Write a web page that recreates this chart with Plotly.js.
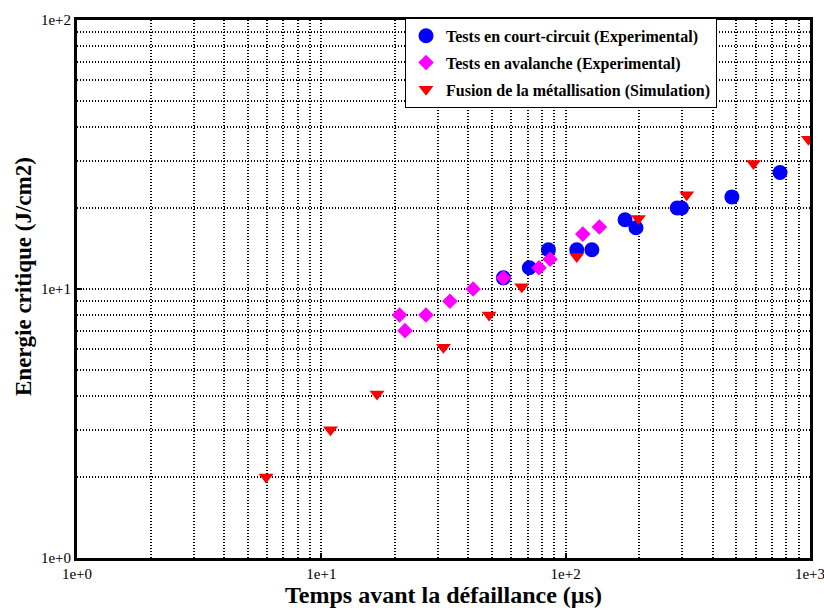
<!DOCTYPE html>
<html>
<head>
<meta charset="utf-8">
<script src="https://cdn.plot.ly/plotly-3.0.1.min.js"></script>
<style>html,body{margin:0;padding:0;background:#fff;}#chart{width:824px;height:612px;}</style>
</head>
<body>
<div id="chart"></div>
<script>
// Tests en court-circuit (Experimental)
const ccTime   = [55.6, 71, 85, 111, 128, 175, 194, 286, 298, 479, 754];
const ccEnergy = [11.0, 12.0, 14.0, 14.0, 14.0, 18.1, 16.9, 20.0, 20.0, 22.0, 27.1];
// Tests en avalanche (Experimental)
const avTime   = [20.9, 22.0, 26.8, 33.6, 41.8, 55.6, 77.8, 86.3, 117.5, 137.4];
const avEnergy = [8.0, 7.0, 8.0, 9.0, 10.0, 11.0, 12.0, 12.9, 16.0, 17.0];
// Fusion de la métallisation (Simulation)
const fuTime   = [5.94, 10.9, 16.9, 31.6, 48.6, 66.1, 111, 198.5, 313, 587, 985];
const fuEnergy = [2.0, 3.0, 4.07, 6.07, 8.0, 10.2, 13.2, 18.3, 22.4, 29.3, 36.0];

const seriesNames = ["Tests en court-circuit (Experimental)", "Tests en avalanche (Experimental)", "Fusion de la métallisation (Simulation)"];

const xMajor = [1, 10, 100, 1000];
const xMajorText = ["1e+0", "1e+1", "1e+2", "1e+3"];
const yMajor = [1, 10, 100];
const yMajorText = ["1e+0", "1e+1", "1e+2"];
const xMinorGrid = [2,3,4,5,6,7,8,9,20,30,40,50,60,70,80,90,200,300,400,500,600,700,800,900];
const yMinorGrid = [2,3,4,5,6,7,8,9,20,30,40,50,60,70,80,90];

const serif = "Liberation Serif, Times New Roman, serif";

const traces = [
  {x: ccTime, y: ccEnergy, name: seriesNames[0], mode: "markers", type: "scatter", legendgroup: "a",
   marker: {symbol: "circle", size: 15, color: "#0000ff"}},
  {x: avTime, y: avEnergy, name: seriesNames[1], mode: "markers", type: "scatter", legendgroup: "b",
   marker: {symbol: "diamond", size: 12, color: "#ff00ff"}},
  {x: fuTime, y: fuEnergy, name: seriesNames[2], mode: "markers", type: "scatter", legendgroup: "c",
   marker: {symbol: "triangle-down", size: 13, color: "#ff0000"}}
];

const gridStyle = {color: "#000000", dash: "1px,2px", width: 2};

const layout = {
  width: 824, height: 612,
  margin: {l: 77, r: 14, t: 20, b: 54},
  paper_bgcolor: "#ffffff", plot_bgcolor: "#ffffff",
  showlegend: true,
  legend: {
    x: 0.4475, y: 1.004, xanchor: "left", yanchor: "top",
    bordercolor: "#000000", borderwidth: 1, bgcolor: "#ffffff",
    font: {family: serif, size: 16, color: "#000000", weight: "bold"},
    tracegroupgap: 3
  },
  xaxis: {
    type: "log", range: [0, 3],
    tickmode: "array", tickvals: xMajor, ticktext: xMajorText,
    ticks: "inside", ticklen: 5, tickwidth: 2, tickcolor: "#000",
    tickfont: {family: serif, size: 15, color: "#000"},
    ticklabeloverflow: "allow",
    showline: true, linecolor: "#000", linewidth: 3, mirror: true,
    showgrid: true, gridcolor: gridStyle.color, griddash: gridStyle.dash, gridwidth: gridStyle.width,
    minor: {tickmode: "array", tickvals: xMinorGrid, ticks: "", showgrid: true,
            gridcolor: gridStyle.color, griddash: gridStyle.dash, gridwidth: gridStyle.width},
    zeroline: false,
    title: {text: "Temps avant la défaillance (µs)", font: {family: serif, size: 24, color: "#000", weight: "bold"}, standoff: 4}
  },
  yaxis: {
    type: "log", range: [0, 2],
    tickmode: "array", tickvals: yMajor, ticktext: yMajorText,
    ticks: "inside", ticklen: 5, tickwidth: 2, tickcolor: "#000",
    tickfont: {family: serif, size: 15, color: "#000"},
    ticklabeloverflow: "allow",
    showline: true, linecolor: "#000", linewidth: 3, mirror: true,
    showgrid: true, gridcolor: gridStyle.color, griddash: gridStyle.dash, gridwidth: gridStyle.width,
    minor: {tickmode: "array", tickvals: yMinorGrid, ticks: "", showgrid: true,
            gridcolor: gridStyle.color, griddash: gridStyle.dash, gridwidth: gridStyle.width},
    zeroline: false
  },
  annotations: [{
    text: "Energie critique (J/cm2)", textangle: -90,
    xref: "paper", yref: "paper", x: (23 - 77) / 733, y: (558 - 277) / 538,
    xanchor: "center", yanchor: "middle", showarrow: false,
    font: {family: serif, size: 23, color: "#000", weight: "bold"}
  }]
};

Plotly.newPlot("chart", traces, layout, {displayModeBar: false, staticPlot: true});
</script>
</body>
</html>
